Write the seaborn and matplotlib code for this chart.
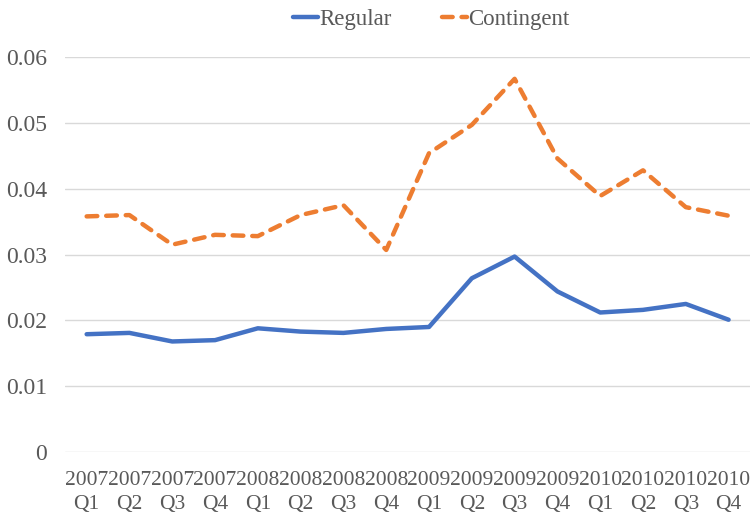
import matplotlib
matplotlib.use("Agg")
import matplotlib.pyplot as plt
import seaborn as sns
import pandas as pd

quarters = ["2007\nQ1", "2007\nQ2", "2007\nQ3", "2007\nQ4",
            "2008\nQ1", "2008\nQ2", "2008\nQ3", "2008\nQ4",
            "2009\nQ1", "2009\nQ2", "2009\nQ3", "2009\nQ4",
            "2010\nQ1", "2010\nQ2", "2010\nQ3", "2010\nQ4"]
regular = [0.0179, 0.0181, 0.0168, 0.0170, 0.0188, 0.0183, 0.0181, 0.0187,
           0.0190, 0.0264, 0.0297, 0.0244, 0.0212, 0.0216, 0.0225, 0.0201]
contingent = [0.0358, 0.0360, 0.0315, 0.0330, 0.0328, 0.0360, 0.0375, 0.0307,
              0.0454, 0.0497, 0.0567, 0.0446, 0.0389, 0.0428, 0.0372, 0.0359]

df = pd.DataFrame({"pos": range(len(quarters)), "Regular": regular, "Contingent": contingent})

sns.set_style("white")
plt.rcParams["font.family"] = ["Liberation Serif", "DejaVu Serif"]
text_color = "#595959"

fig, ax = plt.subplots(figsize=(7.5, 5.19), dpi=100)
fig.subplots_adjust(left=0.087, right=1.0, bottom=0.129, top=0.89)

sns.lineplot(data=df, x="pos", y="Regular", ax=ax, color="#4472C4", linewidth=3.2,
             label="Regular", solid_capstyle="round")
sns.lineplot(data=df, x="pos", y="Contingent", ax=ax, color="#ED7D31", linewidth=3.2,
             label="Contingent", dashes=False)
ax.lines[1].set_dashes((2.4, 2.0))
ax.lines[1].set_dash_capstyle("round")

ax.set_xlim(-0.5, len(quarters) - 0.5)
ax.set_ylim(0, 0.06)
ax.set_yticks([0, 0.01, 0.02, 0.03, 0.04, 0.05, 0.06])
ax.set_yticklabels(["0", "0.01", "0.02", "0.03", "0.04", "0.05", "0.06"])
ax.set_xticks(range(len(quarters)))
ax.set_xticklabels(quarters, linespacing=1.3)
ax.tick_params(axis="y", labelsize=17, colors=text_color, length=0, pad=13)
ax.tick_params(axis="x", labelsize=15.5, colors=text_color, length=0, pad=14)
ax.set_xlabel("")
ax.set_ylabel("")
ax.yaxis.grid(True, color="#D9D9D9", linewidth=1)
ax.set_axisbelow(True)
for s in ax.spines.values():
    s.set_visible(False)

leg = ax.legend(loc="upper center", bbox_to_anchor=(0.534, 1.175), ncol=2, frameon=False,
                fontsize=16.5, handlelength=1.1, handletextpad=0.05, columnspacing=2.2)
for t in leg.get_texts():
    t.set_color(text_color)

fig.savefig("out.png", dpi=100)
